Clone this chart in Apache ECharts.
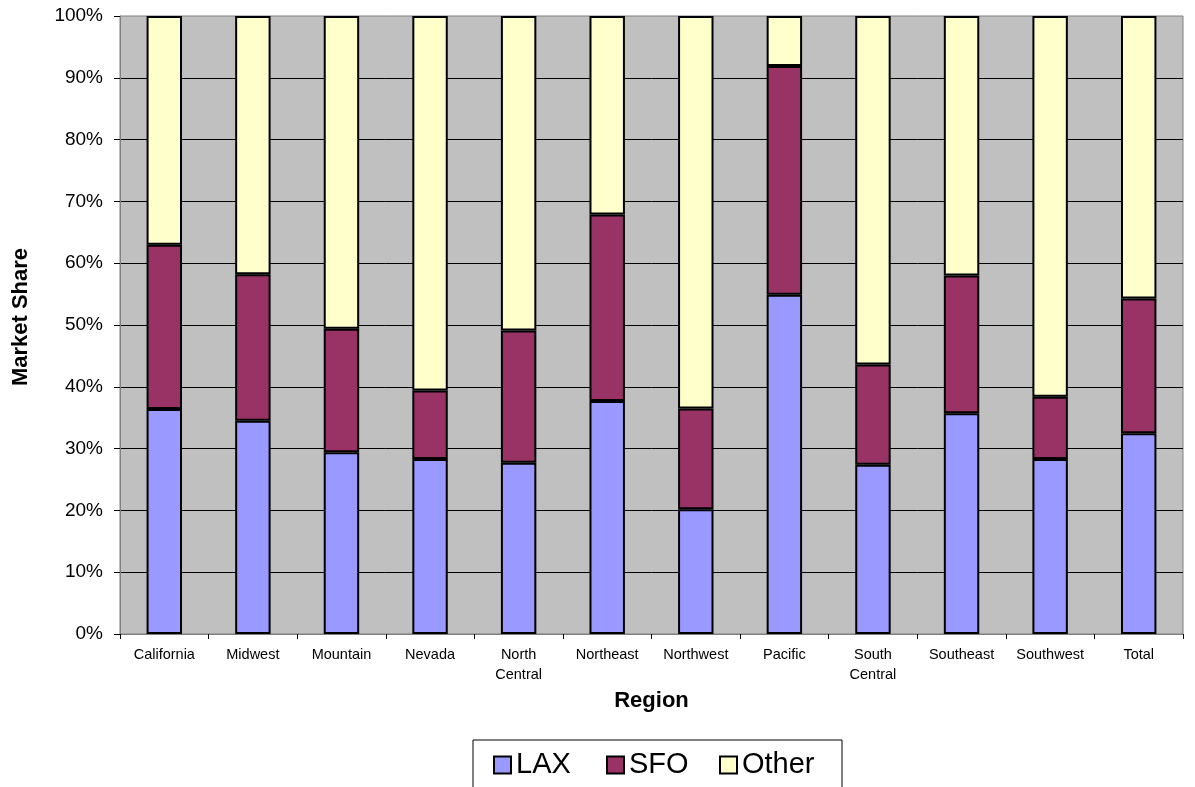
<!DOCTYPE html>
<html>
<head>
<meta charset="utf-8">
<title>Market Share by Region</title>
<script src="https://cdn.jsdelivr.net/npm/echarts@6/dist/echarts.min.js"></script>
<style>
  html, body { margin: 0; padding: 0; background: #ffffff; }
  #chart { width: 1195px; height: 787px; }
</style>
</head>
<body>
<div id="chart"></div>
<script>
// Regions on the category axis
const regions = ['California', 'Midwest', 'Mountain', 'Nevada', 'North Central', 'Northeast',
  'Northwest', 'Pacific', 'South Central', 'Southeast', 'Southwest', 'Total'];

// Market share (%) per airport, stacked to 100%
const lax = [36.4, 34.5, 29.4, 28.3, 27.7, 37.7, 20.2, 54.9, 27.4, 35.7, 28.3, 32.5];
const sfo = [26.6, 23.7, 20.0, 11.1, 21.4, 30.2, 16.3, 37.0, 16.2, 22.3, 10.1, 21.8];
const other = [37.0, 41.8, 50.6, 60.6, 50.9, 32.1, 63.5, 8.1, 56.4, 42.0, 61.6, 45.7];

const FONT = "'Liberation Sans', Arial, sans-serif";

const chart = echarts.init(document.getElementById('chart'), null, { renderer: 'canvas' });

function barSeries(name, data, color) {
  return {
    name: name,
    type: 'bar',
    stack: 'share',
    data: data,
    barWidth: '40%',
    itemStyle: { color: color, borderColor: '#000000', borderWidth: 2 },
    emphasis: { disabled: true }
  };
}

chart.setOption({
  animation: false,
  textStyle: { fontFamily: FONT },
  grid: {
    left: 120, right: 12, top: 16, bottom: 153,
    containLabel: false,
    outerBoundsMode: 'none',
    show: true,
    backgroundColor: '#C0C0C0',
    borderColor: '#808080',
    borderWidth: 1
  },
  xAxis: {
    type: 'category',
    data: regions,
    name: 'Region',
    nameLocation: 'middle',
    nameGap: 55,
    nameTextStyle: { fontFamily: FONT, fontSize: 22, fontWeight: 'bold', color: '#000' },
    axisLine: { lineStyle: { color: '#808080', width: 1 } },
    axisTick: { show: true, length: 5, inside: false, lineStyle: { color: '#000' } },
    axisLabel: {
      fontFamily: FONT, fontSize: 14.5, color: '#000', margin: 11, lineHeight: 20,
      interval: 0,
      formatter: v => v.replace(' ', '\n')
    },
    splitLine: { show: false }
  },
  yAxis: {
    type: 'value',
    min: 0, max: 100, interval: 10,
    name: 'Market Share',
    nameLocation: 'middle',
    nameGap: 88,
    nameRotate: 90,
    nameTextStyle: {
      fontFamily: FONT, fontSize: 22, fontWeight: 'bold', color: '#000',
      padding: [0, 0, 0, 16]
    },
    axisLine: { show: true, lineStyle: { color: '#808080', width: 1 } },
    axisTick: { show: true, length: 6, inside: false, lineStyle: { color: '#000' } },
    axisLabel: { fontFamily: FONT, fontSize: 19, color: '#000', margin: 17, formatter: '{value}%' },
    splitLine: { show: true, showMinLine: false, showMaxLine: false, lineStyle: { color: '#000000', width: 1 } }
  },
  legend: {
    data: ['LAX', 'SFO', 'Other'],
    left: 473,
    top: 740,
    orient: 'horizontal',
    backgroundColor: '#ffffff',
    borderColor: '#000000',
    borderWidth: 1,
    padding: [10, 12, 24, 20],
    itemGap: 2,
    itemWidth: 17,
    itemHeight: 17,
    icon: 'rect',
    itemStyle: { borderColor: '#000', borderWidth: 2 },
    textStyle: { fontFamily: FONT, fontSize: 29, color: '#000', width: 88, lineHeight: 30 },
    selectedMode: false
  },
  series: [
    barSeries('LAX', lax, '#9999FF'),
    barSeries('SFO', sfo, '#993366'),
    barSeries('Other', other, '#FFFFCC')
  ]
});
</script>
</body>
</html>
